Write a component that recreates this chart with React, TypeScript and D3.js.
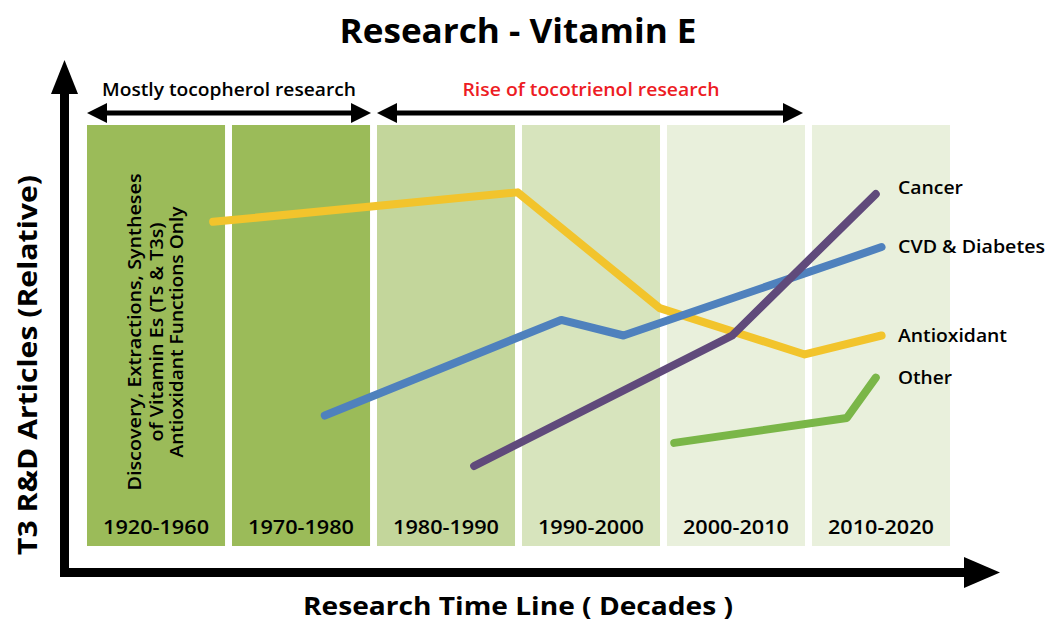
import * as d3 from "d3";
import React, { useRef, useEffect } from "react";

const decades = ["1920-1960", "1970-1980", "1980-1990", "1990-2000", "2000-2010", "2010-2020"];
const bandFills = ["#9bbb59", "#9bbb59", "#c3d69b", "#d7e4bd", "#e9f0dc", "#e9f0dc"];

// t = position along the time line in band units (0 = left edge of first band)
const antioxidantT = [0.87, 2.97, 3.95, 4.95, 5.48];
const antioxidantV = [77, 84, 56.5, 45.5, 50];
const cvdT = [1.64, 3.27, 3.7, 5.48];
const cvdV = [31, 53.7, 50, 71];
const cancerT = [2.67, 4.45, 5.44];
const cancerV = [19, 50, 83.6];
const otherT = [4.05, 5.24, 5.44];
const otherV = [24.5, 30.4, 40];

const seriesNames = ["Antioxidant", "CVD & Diabetes", "Cancer", "Other"];
const seriesColors = ["#f2c42c", "#4f81bd", "#604a7b", "#7ab648"];

const bandNote = ["Discovery, Extractions, Syntheses", "of Vitamin Es (Ts & T3s)", "Antioxidant Functions Only"];

const FONT = "'Open Sans', 'DejaVu Sans', sans-serif";

function App() {
  const ref = useRef<SVGSVGElement>(null);

  useEffect(() => {
    const svg = d3.select(ref.current);
    svg.selectAll("*").remove();

    const band = d3.scaleBand().domain(decades).range([87, 950]).paddingInner(0.048).paddingOuter(0);
    const x = d3.scaleLinear().domain([0, 6]).range([87, 87 + 6 * band.step()]);
    const y = d3.scaleLinear().domain([0, 100]).range([546, 125]);

    // title
    svg.append("text")
      .attr("x", 518).attr("y", 43)
      .attr("text-anchor", "middle")
      .attr("font-family", FONT).attr("font-weight", 700).attr("font-size", 34)
      .attr("textLength", 357).attr("lengthAdjust", "spacingAndGlyphs")
      .text("Research - Vitamin E");

    // bands
    svg.append("g").selectAll("rect")
      .data(decades)
      .enter().append("rect")
      .attr("x", (d) => band(d)!)
      .attr("y", y(100))
      .attr("width", band.bandwidth())
      .attr("height", y(0) - y(100))
      .attr("fill", (d, i) => bandFills[i]);

    svg.append("g").selectAll("text")
      .data(decades)
      .enter().append("text")
      .attr("x", (d) => band(d)! + band.bandwidth() / 2)
      .attr("y", 534)
      .attr("text-anchor", "middle")
      .attr("font-family", FONT).attr("font-weight", 600).attr("font-size", 19)
      .attr("textLength", 106).attr("lengthAdjust", "spacingAndGlyphs")
      .text((d) => d);

    // rotated note in the first band
    const noteLens = [317, 219, 251];
    const noteX = [135, 156.5, 177];
    bandNote.forEach((line, i) => {
      svg.append("text")
        .attr("transform", `translate(${noteX[i]},332) rotate(-90)`)
        .attr("text-anchor", "middle")
        .attr("dy", "0.35em")
        .attr("font-family", FONT).attr("font-weight", 600).attr("font-size", 18)
        .attr("textLength", noteLens[i]).attr("lengthAdjust", "spacingAndGlyphs")
        .text(line);
    });

    // lines
    const line = d3.line<[number, number]>().x((d) => x(d[0])).y((d) => y(d[1]));
    const series = [
      [antioxidantT, antioxidantV],
      [cvdT, cvdV],
      [cancerT, cancerV],
      [otherT, otherV],
    ];
    series.forEach(([ts, vs], i) => {
      const pts = ts.map((t, j) => [t, vs[j]] as [number, number]);
      svg.append("path")
        .attr("d", line(pts))
        .attr("fill", "none")
        .attr("stroke", seriesColors[i])
        .attr("stroke-width", 8)
        .attr("stroke-linecap", "round")
        .attr("stroke-linejoin", "round");
    });

    // series labels at line ends
    const labelDy = [0, 0, -6, 0];
    const labelLens = [109, 147, 65, 54];
    series.forEach(([ts, vs], i) => {
      svg.append("text")
        .attr("x", 898)
        .attr("y", y(vs[vs.length - 1]) + labelDy[i])
        .attr("dy", "0.35em")
        .attr("font-family", FONT).attr("font-weight", 600).attr("font-size", 18)
        .attr("textLength", labelLens[i]).attr("lengthAdjust", "spacingAndGlyphs")
        .text(seriesNames[i]);
    });

    // double arrows with headers
    const dbl = (x0: number, x1: number, yy: number) => {
      const h = 20, w = 10, s = 2.5;
      const p = d3.path();
      p.moveTo(x0, yy);
      p.lineTo(x0 + h, yy - w);
      p.lineTo(x0 + h, yy - s);
      p.lineTo(x1 - h, yy - s);
      p.lineTo(x1 - h, yy - w);
      p.lineTo(x1, yy);
      p.lineTo(x1 - h, yy + w);
      p.lineTo(x1 - h, yy + s);
      p.lineTo(x0 + h, yy + s);
      p.lineTo(x0 + h, yy + w);
      p.closePath();
      svg.append("path").attr("d", p.toString()).attr("fill", "#000");
    };
    dbl(band(decades[0])!, band(decades[1])! + band.bandwidth() + 1, 113);
    dbl(band(decades[2])!, band(decades[4])! - 2 + band.bandwidth(), 113);

    svg.append("text")
      .attr("x", 229).attr("y", 96)
      .attr("text-anchor", "middle")
      .attr("font-family", FONT).attr("font-weight", 600).attr("font-size", 18)
      .attr("textLength", 254).attr("lengthAdjust", "spacingAndGlyphs")
      .text("Mostly tocopherol research");
    svg.append("text")
      .attr("x", 591).attr("y", 96)
      .attr("text-anchor", "middle")
      .attr("fill", "#ed1c24")
      .attr("font-family", FONT).attr("font-weight", 600).attr("font-size", 18)
      .attr("textLength", 257).attr("lengthAdjust", "spacingAndGlyphs")
      .text("Rise of tocotrienol research");

    // axes as arrows
    svg.append("rect").attr("x", 60).attr("y", 88).attr("width", 9).attr("height", 489).attr("fill", "#000");
    svg.append("path").attr("d", "M51,94 L78,94 L64.5,60 Z").attr("fill", "#000");
    svg.append("rect").attr("x", 60).attr("y", 568).attr("width", 906).attr("height", 9).attr("fill", "#000");
    svg.append("path").attr("d", "M964,557 L964,588 L1000,572.5 Z").attr("fill", "#000");

    svg.append("text")
      .attr("x", 518).attr("y", 615)
      .attr("text-anchor", "middle")
      .attr("font-family", FONT).attr("font-weight", 700).attr("font-size", 25)
      .attr("textLength", 430).attr("lengthAdjust", "spacingAndGlyphs")
      .text("Research Time Line ( Decades )");

    svg.append("text")
      .attr("transform", "translate(37,365) rotate(-90)")
      .attr("text-anchor", "middle")
      .attr("font-family", FONT).attr("font-weight", 700).attr("font-size", 27)
      .attr("textLength", 380).attr("lengthAdjust", "spacingAndGlyphs")
      .text("T3 R&D Articles (Relative)");
  }, []);

  return (
    <svg
      ref={ref}
      width={1047}
      height={623}
      style={{ position: "absolute", left: 0, top: 0, display: "block", background: "#fff" }}
    ></svg>
  );
}

export default App;
